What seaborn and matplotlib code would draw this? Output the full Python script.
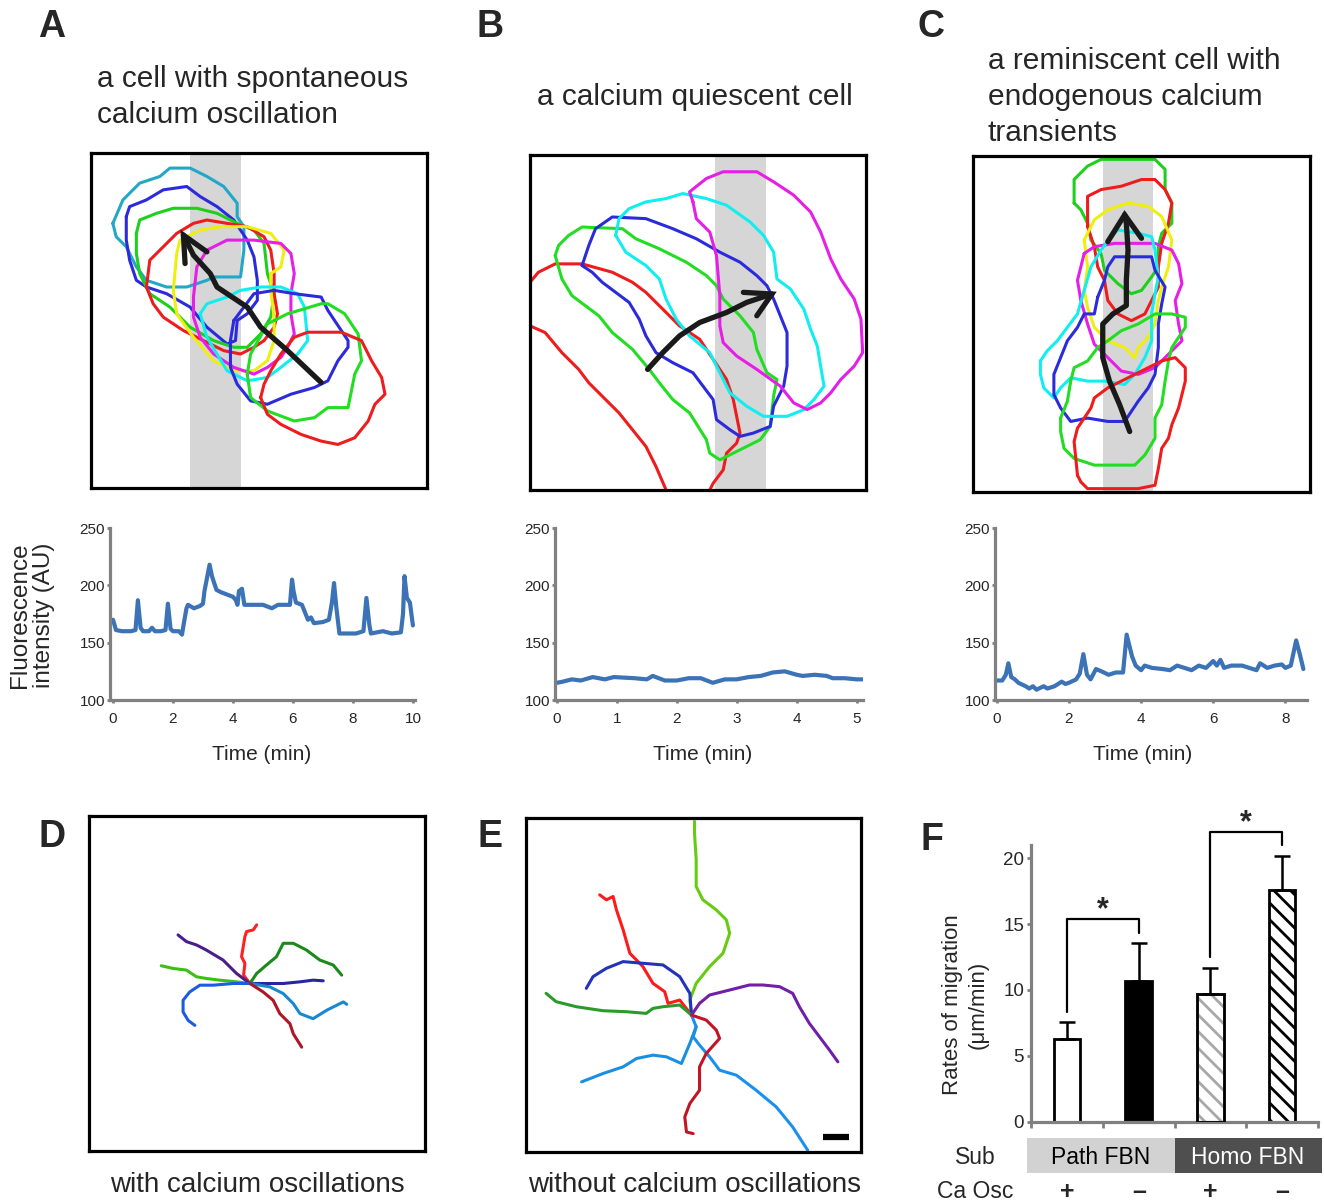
import matplotlib
matplotlib.use('Agg')
import matplotlib.pyplot as plt
from matplotlib.patches import Rectangle
import seaborn as sns
import pandas as pd

sns.set_theme(style='white')
plt.rcParams['font.family'] = ['Liberation Sans', 'DejaVu Sans']
plt.rcParams['hatch.linewidth'] = 2.0

# ---------------- DATA ----------------
# Fluorescence traces (time min, intensity AU)
A_trace = [(0, 170), (0.1, 161), (0.3, 160), (0.6, 160), (0.75, 161), (0.83, 187), (0.92, 163),
           (1.0, 160), (1.2, 160), (1.3, 163), (1.4, 160), (1.6, 160), (1.75, 161), (1.83, 184),
           (1.92, 162), (2.0, 160), (2.2, 160), (2.3, 157), (2.35, 165), (2.45, 180), (2.5, 183),
           (2.7, 180), (2.9, 182), (3.0, 184), (3.05, 195), (3.22, 218), (3.3, 208), (3.45, 196),
           (3.6, 194), (3.8, 192), (4.0, 190), (4.1, 187), (4.15, 183), (4.2, 195), (4.3, 197),
           (4.38, 183), (4.6, 183), (5.0, 183), (5.3, 180), (5.5, 183), (5.9, 183), (5.97, 205),
           (6.02, 195), (6.1, 185), (6.3, 183), (6.5, 170), (6.6, 172), (6.7, 167), (7.0, 168),
           (7.2, 170), (7.3, 185), (7.37, 202), (7.45, 180), (7.55, 158), (7.8, 158), (8.1, 158),
           (8.35, 160), (8.45, 189), (8.55, 165), (8.6, 158), (9.0, 160), (9.3, 158), (9.6, 159),
           (9.67, 175), (9.72, 208), (9.8, 189), (9.9, 185), (10.0, 165)]
B_trace = [(0, 115), (0.1, 116), (0.25, 118), (0.4, 117), (0.6, 120), (0.8, 118), (0.95, 120),
           (1.3, 119), (1.5, 118), (1.6, 121), (1.8, 117), (2.0, 117), (2.2, 119), (2.4, 119),
           (2.6, 115), (2.8, 118), (3.0, 118), (3.2, 120), (3.4, 121), (3.6, 124), (3.8, 125),
           (4.0, 122), (4.1, 121), (4.3, 122), (4.5, 121), (4.6, 119), (4.8, 119), (5.0, 118), (5.1, 118)]
C_trace = [(0, 117), (0.15, 117), (0.25, 122), (0.32, 132), (0.4, 120), (0.5, 118), (0.6, 115),
           (0.8, 112), (0.9, 110), (1.0, 112), (1.1, 109), (1.3, 112), (1.4, 110), (1.6, 112),
           (1.8, 116), (1.9, 114), (2.0, 115), (2.2, 118), (2.3, 123), (2.4, 140), (2.5, 122),
           (2.6, 118), (2.75, 127), (2.9, 125), (3.1, 122), (3.3, 124), (3.5, 124), (3.6, 157),
           (3.75, 138), (3.85, 130), (4.0, 126), (4.1, 130), (4.3, 128), (4.6, 127), (4.8, 126),
           (5.0, 130), (5.2, 128), (5.4, 126), (5.6, 130), (5.8, 128), (6.0, 134), (6.1, 130),
           (6.2, 135), (6.3, 128), (6.5, 130), (6.8, 130), (7.0, 128), (7.2, 126), (7.3, 132),
           (7.5, 128), (7.7, 130), (7.9, 131), (8.0, 128), (8.15, 130), (8.3, 152), (8.4, 140), (8.5, 127)]
A_xticks = [0, 2, 4, 6, 8, 10]
B_xticks = [0, 1, 2, 3, 4, 5]
C_xticks = [0, 2, 4, 6, 8]
trace_yticks = [100, 150, 200, 250]

# Cell outlines (box units 0-100, y downward)
A_teal = [(6.5, 21), (9.5, 14), (14.5, 9), (20.5, 7), (23.5, 4.5), (29.5, 4.5), (34.5, 7), (39.5, 10),
          (43.5, 15), (43.5, 19), (45.5, 22), (45.5, 29), (44.5, 37), (36.5, 37), (34.5, 38), (28.5, 40),
          (22.5, 40), (16.5, 38), (13.5, 34), (10.5, 28), (7.5, 25)]
A_blue1 = [(10.5, 19), (11.5, 16), (16.5, 14), (21.5, 11), (28.5, 10), (32.5, 13), (37.5, 16), (42.5, 20),
           (46.5, 26), (48.5, 31), (49.5, 38), (49.5, 44), (46.5, 48), (43.5, 50), (43, 56), (40.5, 57),
           (34.5, 52), (29.5, 46), (22.5, 42), (16.5, 40), (13.5, 38), (11.5, 32), (10.5, 26)]
A_green1 = [(13.5, 24), (14.5, 20), (19.5, 18), (24.5, 16.5), (31.5, 16.5), (37.5, 18), (43.5, 21), (48.5, 23),
            (51.5, 27), (52.5, 36), (54.5, 42), (53.5, 49), (50.5, 54), (46.5, 58), (42.5, 58), (36.5, 56),
            (29.5, 52), (23.5, 46), (17.5, 42), (14.5, 36), (13.5, 30)]
A_red1 = [(16.5, 40), (17.5, 32), (21.5, 28), (25.5, 24), (30.5, 21), (34.5, 20), (40.5, 21), (46.5, 22),
          (51.5, 25), (53.5, 29), (54.5, 36), (54.5, 42), (55.5, 48), (54.5, 52), (51.5, 56), (48.5, 58),
          (44.5, 60), (39.5, 59), (33.5, 56), (27.5, 53), (21.5, 49), (18.5, 45)]
A_yellow = [(24.5, 41), (25.5, 30), (26.5, 26), (32.5, 23), (38.5, 22), (46.5, 22), (53.5, 24), (57.5, 29),
            (56.5, 34), (53.5, 36), (53.5, 41), (54.5, 49), (54.5, 56), (52.5, 62), (48.5, 65), (42.5, 65),
            (36.5, 62), (30.5, 55), (25.5, 48)]
A_magenta = [(30.5, 43), (31.5, 34), (34.5, 29), (40.5, 26), (48.5, 26), (56.5, 27), (59.5, 30), (60.5, 36),
             (59.5, 42), (59.5, 48), (60.5, 54), (58.5, 58), (56.5, 61), (52.5, 64), (48.5, 66), (42.5, 64),
             (36.5, 60), (32.5, 55), (30.5, 49)]
A_cyan = [(32.5, 48), (34.5, 45), (40.5, 43), (44.5, 41), (50.5, 40), (56.5, 40), (61.5, 42), (63.5, 46),
          (64.5, 56), (61.5, 60), (56.5, 64), (52.5, 67), (46.5, 68), (40.5, 65), (37.5, 60), (34.5, 55)]
A_blue2 = [(42.5, 50), (48.5, 42), (54.5, 41), (60.5, 42), (68.5, 43), (70.5, 47), (76.5, 56), (76.5, 58),
           (73.5, 62), (70.5, 68), (66.5, 70), (59.5, 72), (52.5, 75), (47.5, 74), (43.5, 69), (41.5, 64),
           (41.5, 56)]
A_green2 = [(46.5, 66), (47.5, 60), (52.5, 51), (58.5, 48), (68.5, 45), (70.5, 45), (75.5, 48), (79.5, 54),
            (80.5, 62), (78.5, 66), (76.5, 76), (70.5, 76), (66.5, 79), (60.5, 80), (52.5, 77), (47.5, 73)]
A_red2 = [(50.5, 73), (51.5, 69), (53.5, 65), (56.5, 60), (60.5, 55), (64.5, 53.5), (74.5, 53.5), (80.5, 56),
          (83.5, 62), (86.5, 67), (87.5, 72), (84.5, 75), (82.5, 80), (78.5, 85), (73.5, 87), (68.5, 86),
          (62.5, 84), (56.5, 81), (52.5, 78)]
A_arrow = [(68.5, 68.5), (58.5, 59), (50.5, 52), (46.5, 46), (37.5, 40), (35.5, 36), (30.5, 30.5), (27.5, 24.5)]
A_head = [(28, 33), (27.5, 24.5), (34.5, 29.5)]
A_band = (29.5, 44.5)

B_red = [(0, 38), (2.5, 35), (7.5, 32.5), (15.5, 32.5), (24.5, 35), (30.5, 38), (34.5, 41), (38.5, 45),
         (44.5, 51), (50.5, 55), (54.5, 61), (58.5, 67), (60.5, 73), (61.5, 78), (62.5, 83), (61.5, 86),
         (58.5, 89), (57.5, 94), (54.5, 98), (53.5, 100), (53, 105), (40, 105), (40.5, 100), (37.5, 93),
         (34.5, 87), (30.5, 82), (26.5, 77), (22.5, 73), (17.5, 68), (14.5, 64), (9.5, 59), (4.5, 53),
         (0, 51), (-5, 51), (-5, 38)]
B_green = [(7.5, 30), (8.5, 27), (11.5, 24), (15.5, 21.5), (27.5, 22), (31.5, 25), (38.5, 28), (46.5, 32),
           (52.5, 36), (55.5, 39), (57.5, 43), (62.5, 48), (66.5, 53), (67.5, 58), (70.5, 65), (73.5, 67),
           (72.5, 72), (71.5, 81), (68.5, 85), (62.5, 88), (56.5, 91), (53.5, 89), (52.5, 85), (47.5, 77),
           (42.5, 73), (38.5, 68), (35.5, 64), (30.5, 58), (24.5, 53), (20.5, 48), (16.5, 45), (12.5, 42),
           (9.5, 37)]
B_blue = [(15.5, 33), (17.5, 27), (19.5, 22), (24.5, 18.5), (34.5, 19), (42.5, 22), (49.5, 25), (56.5, 29),
          (62.5, 32), (67.5, 36), (70.5, 39), (72.5, 43), (76.5, 53), (76.5, 63), (75.5, 69), (72.5, 75),
          (71.5, 81), (66.5, 83), (62.5, 84), (59.5, 82), (55.5, 79), (54.5, 73), (51.5, 69), (48.5, 65),
          (42.5, 62), (37.5, 59), (34.5, 54), (32.5, 49), (29.5, 44), (25.5, 41), (21.5, 38), (18.5, 35)]
B_cyan = [(25.5, 24), (26.5, 19), (29.5, 16), (34.5, 14), (40.5, 13), (45.5, 11.5), (52.5, 13), (58.5, 15),
          (65.5, 20), (69.5, 24), (72.5, 29), (73.5, 37), (77.5, 40), (81.5, 46), (83.5, 52), (85.5, 57),
          (86.5, 63), (87.5, 69), (84.5, 73), (81.5, 76), (76.5, 78), (69.5, 78), (64.5, 75), (59.5, 71),
          (56.5, 65), (53.5, 59), (47.5, 54), (43.5, 49), (40.5, 43), (38.5, 37), (34.5, 33), (28.5, 29)]
B_magenta = [(48.5, 14), (47.5, 11), (52.5, 7), (57.5, 5), (67.5, 5), (72.5, 8), (78.5, 12), (83.5, 17),
             (86.5, 23), (89.5, 31), (92.5, 37), (96.5, 43), (98.5, 49), (99, 59), (96.5, 63), (92.5, 67),
             (89.5, 71), (86.5, 74), (82.5, 76), (78.5, 74), (74.5, 69), (67.5, 64), (61.5, 60), (57.5, 56),
             (56.5, 51), (56.5, 42), (55.5, 30), (53.5, 23), (49.5, 19)]
B_arrow = [(35, 64), (39.5, 59), (44.5, 54), (50.5, 50), (58.5, 47), (64.5, 44), (72, 41.5)]
B_head = [(63.5, 41), (72, 41.5), (67.5, 48)]
B_band = (55, 70.3)

C_green1 = [(30, 14), (30, 7), (34, 3), (38, 1), (48, 1), (54, 1), (57, 4), (57, 10), (59, 14), (59, 20),
            (56, 23), (55, 27), (55, 33), (53, 36), (50, 40), (47, 41), (43, 38), (39, 34), (38, 29),
            (35, 25), (34, 20), (32, 16)]
C_red1 = [(34, 21), (34, 12), (38, 10), (44, 9), (50, 7), (54, 7), (57, 10), (59, 14), (58, 20), (56, 26),
          (55, 33), (55, 39), (53, 43), (51, 47), (47, 49), (43, 47), (40, 43), (39, 37), (37, 33), (36, 27),
          (35, 24)]
C_yellow = [(33, 25), (36, 19), (40, 16), (46, 14), (52, 15), (56, 18), (59, 25), (58, 33), (56, 39),
            (55, 43), (54, 50), (52, 54), (49, 57), (48, 60), (45, 57), (40, 55), (36, 51), (34, 45),
            (33, 40), (34, 33)]
C_magenta = [(33, 29), (36, 27), (42, 26), (48, 26), (54, 26), (59, 28), (61, 32), (62, 38), (60, 43),
             (61, 50), (62, 55), (58, 59), (54, 63), (49, 65), (44, 64), (40, 60), (36, 56), (34, 50),
             (32, 43), (31, 37)]
C_cyan = [(20, 61), (22, 58), (25, 55), (28, 51), (31, 47), (33, 40), (35, 33), (38, 28), (41, 24), (43, 22),
          (49, 23), (53, 24), (54, 28), (55, 36), (54, 41), (53, 47), (53, 55), (51, 60), (48, 65), (45, 68),
          (39, 67), (34, 67), (29, 66), (26, 69), (24, 72), (21, 69), (20, 65)]
C_blue = [(37, 42), (39, 37), (40, 33), (42, 30), (48, 30), (53, 30), (54, 34), (57, 39), (56, 44), (55, 50),
          (55, 57), (54, 65), (52, 69), (49, 73), (45, 79), (40, 79), (34, 78), (29, 79), (26, 75), (24, 71),
          (24, 65), (26, 60), (28, 55), (31, 51), (33, 47), (36, 47)]
C_green2 = [(26, 78), (28, 73), (29, 67), (30, 63), (34, 61), (37, 57), (40, 55), (44, 52), (49, 50), (54, 47),
            (59, 47), (63, 48), (63, 51), (61, 54), (59, 57), (58, 61), (57, 67), (56, 74), (54, 78), (54, 84),
            (51, 89), (48, 92), (42, 92), (36, 92), (30, 90), (27, 87), (26, 82)]
C_red2 = [(31, 95), (30, 85), (31, 81), (35, 75), (36, 72), (40, 69), (46, 66), (52, 63), (56, 61), (60, 60),
          (63, 63), (63, 67), (61, 75), (59, 80), (58, 84), (56, 87), (55, 93), (54, 98), (49, 99), (39, 99),
          (34, 99), (32, 97)]
C_arrow = [(46.5, 82), (43.5, 74), (40.5, 67), (38.5, 60), (38.5, 50), (41.5, 47), (45.5, 44.5), (45.5, 37),
           (46, 28), (45.5, 20), (45, 17.5)]
C_head = [(40, 25.5), (45, 17.5), (50, 24.5)]
C_band = (38.5, 53.4)

# Migration trajectories (box units 0-100, y downward)
D_tracks = {
    '#ff2020': [(47.9, 50), (46, 47.5), (46.4, 44), (45.4, 42), (45.9, 39), (46.4, 36), (46.9, 34.5), (48.9, 34), (49.9, 32.5)],
    '#3cbf14': [(47.9, 50), (43.9, 49.5), (38.9, 49), (34.9, 48.5), (32, 48), (29, 46), (25, 45.5), (21.5, 44.7)],
    '#4a1d8c': [(47.9, 50), (43.9, 47), (39.9, 43), (34.9, 40), (32, 38.5), (29, 37.5), (26.5, 35.5)],
    '#1a8a1a': [(47.9, 50), (49.9, 47), (52.8, 44.5), (55.8, 42), (57.8, 38), (60.8, 38), (64.7, 40), (68.7, 43), (72.7, 44.5), (75.2, 47.5)],
    '#26269e': [(47.9, 50), (52.8, 50), (57.8, 50), (62.8, 49.5), (66.7, 49), (69.7, 49.2)],
    '#1a5de0': [(47.9, 50), (42.9, 50), (37, 50.5), (33, 50.5), (30, 52.5), (28, 55), (28, 58.5), (29.5, 61), (31.5, 62.5)],
    '#1a88d0': [(47.9, 50), (53.8, 51), (57.8, 53), (60.8, 56), (62.8, 59), (66.7, 60.5), (70.7, 58), (75.7, 55.5), (76.7, 56.2)],
    '#b01525': [(47.9, 50), (51.8, 52.5), (54.8, 55), (56.8, 59), (59.8, 62), (60.8, 65), (63.3, 69)],
}
E_tracks = {
    '#66cc11': [(49.4, 59), (48.9, 54.5), (50.8, 49.5), (54.8, 44.5), (58.8, 40.5), (60.8, 34.5), (59.8, 30.5), (56.8, 27.5), (52.8, 24.5), (50.8, 20.5), (50.8, 12.5), (50.3, 4.5), (50.3, 1)],
    '#ff1a1a': [(49.4, 59), (45.9, 54.5), (42.4, 55.5), (41.4, 52), (37.9, 49.5), (34.9, 44.5), (31, 40.5), (29, 33.5), (27, 27.5), (26, 23.5), (24, 24.5), (22, 23)],
    '#2233bb': [(49.4, 59), (48.9, 52.5), (45.9, 47.5), (40.9, 44), (35, 43.5), (29, 43), (24, 45), (20, 47.5), (18, 51)],
    '#2a9a2a': [(49.4, 59), (45.9, 56), (40.9, 56.5), (37.9, 57), (35.9, 58.5), (30, 58), (23, 57.7), (15, 56.5), (9, 55), (6, 52.5)],
    '#7020a8': [(49.4, 59), (51.8, 55.5), (54.8, 53), (60.8, 51.5), (66.7, 50), (70.7, 50), (75.7, 50.5), (79.6, 52.5), (81.6, 56.5), (84.6, 61.5), (87.6, 65.5), (90.6, 69.5), (93.1, 73)],
    '#1a90ee': [(49.4, 59), (50.8, 62.5), (49.9, 65.5), (51.8, 68), (54.8, 71.5), (57.8, 75.5), (62.8, 77), (68.7, 81.5), (74.7, 86.5), (79.6, 92.5), (84.1, 99.5)],
    '#1a8ee0': [(50.8, 62.5), (48.9, 67.5), (46.4, 73.5), (41.9, 71.5), (37.9, 71), (33, 72), (29, 74.5), (23, 76.5), (16.6, 79)],
    '#c01525': [(49.4, 59), (53.8, 60.5), (56.8, 63.5), (57.8, 66), (53.8, 70.5), (51.8, 74.5), (51.8, 81.5), (48.9, 85.5), (47.4, 89.5), (47.9, 94), (49.9, 94.5)],
}
E_scalebar = [(88.8, 95.4), (96.3, 95.4)]

# Panel F
F_groups = ['Path FBN +', 'Path FBN -', 'Homo FBN +', 'Homo FBN -']
F_means = [6.3, 10.7, 9.7, 17.6]
F_errs = [1.3, 2.9, 2.0, 2.6]
F_yticks = [0, 5, 10, 15, 20]
F_brackets = [((0, 1), (8.3, 15.4, 14.3)), ((2, 3), (12.5, 22.0, 21.0))]
F_signs = ['+', '–', '+', '–']

# ---------------- FIGURE ----------------
W, H = 1324, 1203
fig = plt.figure(figsize=(W / 100, H / 100), dpi=100)


def px_axes(x0, y0, x1, y1):
    return fig.add_axes([x0 / W, 1 - y1 / H, (x1 - x0) / W, (y1 - y0) / H])


def ftext(x, y, s, **kw):
    fig.text(x / W, 1 - y / H, s, **kw)


RED, GREEN, BLUE = '#ee1c1c', '#1ecf1e', '#2b2bdc'
TEAL, YELLOW, MAGENTA, CYAN = '#22a8c6', '#eeee10', '#e51fe5', '#10eef0'
LINE_BLUE = '#3b73b6'
AXGRAY = '#808080'


def cell_panel(box, band, outlines, arrow, head):
    ax = px_axes(*box)
    ax.set_xlim(0, 100)
    ax.set_ylim(100, 0)
    ax.set_xticks([])
    ax.set_yticks([])
    for s in ax.spines.values():
        s.set_color('black')
        s.set_linewidth(2.3)
        s.set_visible(True)
    ax.axvspan(band[0], band[1], color='#d6d6d6', lw=0, zorder=0)
    for pts, col in outlines:
        xs = [p[0] for p in pts] + [pts[0][0]]
        ys = [p[1] for p in pts] + [pts[0][1]]
        ax.plot(xs, ys, color=col, lw=2.2, solid_joinstyle='round', zorder=2)
    ax.plot([p[0] for p in arrow], [p[1] for p in arrow], color='#1a1a1a', lw=3.8,
            solid_capstyle='round', solid_joinstyle='round', zorder=5)
    ax.plot([p[0] for p in head], [p[1] for p in head], color='#1a1a1a', lw=3.8,
            solid_capstyle='round', solid_joinstyle='miter', zorder=5)
    return ax


cell_panel((91, 153, 427, 488), A_band,
           [(A_teal, TEAL), (A_blue1, BLUE), (A_green1, GREEN), (A_red1, RED), (A_yellow, YELLOW),
            (A_magenta, MAGENTA), (A_cyan, CYAN), (A_blue2, BLUE), (A_green2, '#22dd22'), (A_red2, RED)],
           A_arrow, A_head)
cell_panel((530, 155, 866, 490), B_band,
           [(B_red, RED), (B_green, '#22dd22'), (B_blue, BLUE), (B_cyan, CYAN), (B_magenta, MAGENTA)],
           B_arrow, B_head)
cell_panel((973, 156, 1310, 492), C_band,
           [(C_green1, GREEN), (C_red1, RED), (C_yellow, YELLOW), (C_magenta, MAGENTA), (C_cyan, CYAN),
            (C_blue, BLUE), (C_green2, '#22dd22'), (C_red2, RED)],
           C_arrow, C_head)


def trace_panel(box, trace, xlim, xticks):
    ax = px_axes(*box)
    sns.lineplot(x=[p[0] for p in trace], y=[p[1] for p in trace], ax=ax, color=LINE_BLUE,
                 lw=3.0, sort=False, estimator=None)
    ax.lines[-1].set_solid_joinstyle('round')
    ax.set_xlim(*xlim)
    ax.set_ylim(100, 250)
    ax.set_xticks(xticks)
    ax.set_yticks(trace_yticks)
    for side in ('top', 'right'):
        ax.spines[side].set_visible(False)
    for side in ('left', 'bottom'):
        ax.spines[side].set_color(AXGRAY)
        ax.spines[side].set_linewidth(2.3)
    ax.tick_params(axis='x', length=2.5, width=2, color=AXGRAY, pad=6, labelsize=11, direction='out', bottom=True)
    ax.tick_params(axis='y', length=2.5, width=2, color=AXGRAY, pad=1, labelsize=11, direction='out', left=True)
    ax.set_xlabel('')
    ax.set_ylabel('')
    return ax


trace_panel((110, 528, 415, 700), A_trace, (-0.1, 10.07), A_xticks)
trace_panel((555, 528, 863, 700), B_trace, (-0.03, 5.105), B_xticks)
trace_panel((995, 528, 1307, 700), C_trace, (-0.05, 8.6), C_xticks)


def track_panel(box, tracks):
    ax = px_axes(*box)
    ax.set_xlim(0, 100)
    ax.set_ylim(100, 0)
    ax.set_xticks([])
    ax.set_yticks([])
    for s in ax.spines.values():
        s.set_color('black')
        s.set_linewidth(2.3)
        s.set_visible(True)
    for col, pts in tracks.items():
        sns.lineplot(x=[p[0] for p in pts], y=[p[1] for p in pts], ax=ax, color=col, lw=2.2,
                     sort=False, estimator=None)
    ax.set_xlabel('')
    ax.set_ylabel('')
    ax.set_xlim(0, 100)
    ax.set_ylim(100, 0)
    return ax


track_panel((89, 816, 425, 1151), D_tracks)
axE = track_panel((526, 818, 861, 1152), E_tracks)
axE.plot([p[0] for p in E_scalebar], [p[1] for p in E_scalebar], color='black', lw=4.5,
         solid_capstyle='butt')

# Panel F
axF = px_axes(1031, 845, 1318, 1121.7)
dfF = pd.DataFrame({'group': F_groups, 'rate': F_means})
sns.barplot(data=dfF, x='group', y='rate', ax=axF, width=0.37, color='white',
            edgecolor='black', linewidth=2.0, errorbar=None, saturation=1)
bars = axF.patches
bars[0].set_facecolor('white')
bars[1].set_facecolor('black')
bars[2].set_facecolor('white')
bars[2].set_edgecolor('#a8a8a8')
bars[2].set_hatch('\\\\')
bars[3].set_facecolor('white')
bars[3].set_hatch('\\\\')
axF.bar([2], [F_means[2]], width=0.37, fill=False, edgecolor='black', linewidth=2.0, zorder=3)
axF.errorbar(range(4), F_means, yerr=[[0] * 4, F_errs], fmt='none', ecolor='black',
             elinewidth=1.8, capsize=6, capthick=1.8, zorder=1)
axF.set_xlim(-0.5, 3.5)
axF.set_ylim(0, 21)
axF.set_xticks([-0.5, 0.5, 1.5, 2.5, 3.5])
axF.set_xticklabels([])
axF.set_yticks(F_yticks)
for side in ('top', 'right'):
    axF.spines[side].set_visible(False)
for side in ('left', 'bottom'):
    axF.spines[side].set_color(AXGRAY)
    axF.spines[side].set_linewidth(2.3)
axF.tick_params(axis='x', length=4, width=2, color=AXGRAY, direction='out', bottom=True)
axF.tick_params(axis='y', length=3, width=2, color=AXGRAY, pad=2, labelsize=13.5, direction='out', left=True)
axF.set_xlabel('')
axF.set_ylabel('')
for (x0, x1), (y0, ytop, y1) in F_brackets:
    axF.plot([x0, x0, x1, x1], [y0, ytop, ytop, y1], color='black', lw=1.6, clip_on=False)
    axF.text((x0 + x1) / 2, ytop - 0.5, '*', ha='center', va='bottom', fontsize=22,
             fontweight='bold', clip_on=False)

# table under F
fig.add_artist(Rectangle((1027 / W, 1 - 1173 / H), (1175 - 1027) / W, 35 / H,
                         transform=fig.transFigure, facecolor='#d2d2d2', edgecolor='none'))
fig.add_artist(Rectangle((1175 / W, 1 - 1173 / H), (1322 - 1175) / W, 35 / H,
                         transform=fig.transFigure, facecolor='#4f4f4f', edgecolor='none'))
ftext(1101, 1157, 'Path FBN', ha='center', va='center', fontsize=16.5, color='black')
ftext(1248, 1157, 'Homo FBN', ha='center', va='center', fontsize=16.5, color='white')
ftext(975, 1158, 'Sub', ha='center', va='center', fontsize=16.5)
ftext(975, 1192, 'Ca Osc', ha='center', va='center', fontsize=16.5)
for xc, sgn in zip([1067, 1139, 1210, 1282], F_signs):
    ftext(xc, 1192, sgn, ha='center', va='center', fontsize=18, fontweight='bold')

# ---------------- TEXT ----------------
for x, y, s in [(52, 27, 'A'), (490, 27, 'B'), (931, 27, 'C'), (52, 837, 'D'), (490, 837, 'E'), (932, 840, 'F')]:
    ftext(x, y, s, ha='center', va='center', fontsize=27, fontweight='bold')

ftext(97, 97, 'a cell with spontaneous\ncalcium oscillation', ha='left', va='center',
      fontsize=21.5, linespacing=1.38)
ftext(695, 97, 'a calcium quiescent cell', ha='center', va='center', fontsize=21.5)
ftext(988, 97, 'a reminiscent cell with\nendogenous calcium\ntransients', ha='left', va='center',
      fontsize=21.5, linespacing=1.38)

ftext(32, 615, 'Fluorescence\nintensity (AU)', ha='center', va='center', rotation=90,
      fontsize=17.5, linespacing=1.15)
for xc in (262, 703, 1143):
    ftext(xc, 755, 'Time (min)', ha='center', va='center', fontsize=15)

ftext(965, 1005, 'Rates of migration\n(μm/min)', ha='center', va='center', rotation=90,
      fontsize=16, linespacing=1.3)

ftext(257, 1185, 'with calcium oscillations', ha='center', va='center', fontsize=20)
ftext(695, 1185, 'without calcium oscillations', ha='center', va='center', fontsize=20)

fig.savefig('out.png', dpi=100)
